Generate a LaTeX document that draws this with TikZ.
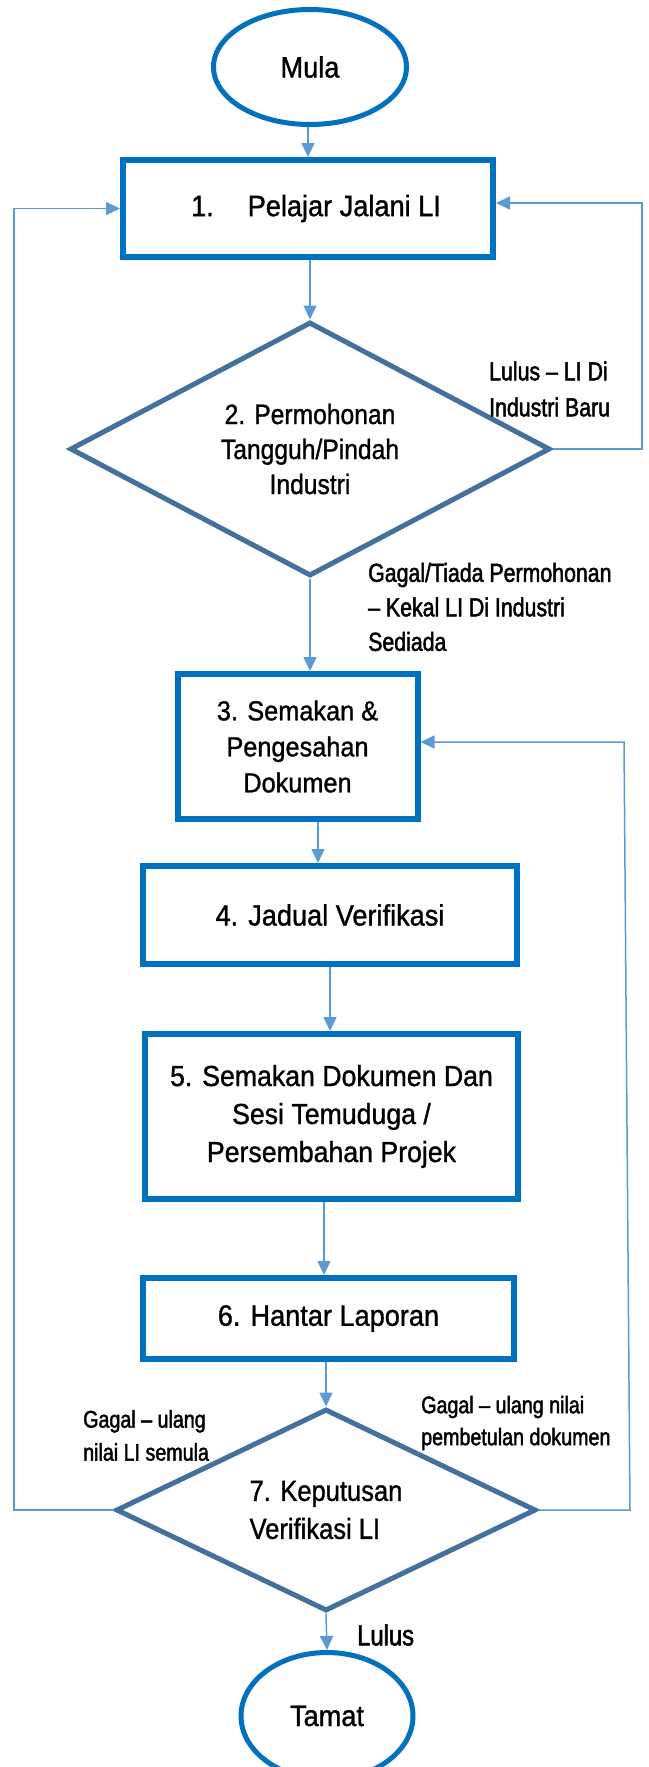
\documentclass[tikz,border=0pt]{standalone}
\usepackage{fontspec}
\setmainfont{Liberation Sans}[FakeBold=1.1,FakeStretch=0.92]
\newfontfamily\diafont[FakeStretch=0.88,FakeBold=1.1]{Liberation Sans}
\newfontfamily\labfont[FakeStretch=0.82,FakeBold=1.8]{Liberation Sans}
\usetikzlibrary{shapes.geometric,arrows.meta,calc}
\definecolor{boxblue}{HTML}{0070C0}
\definecolor{diablue}{HTML}{41719C}
\definecolor{arrblue}{HTML}{5B9BD5}
\begin{document}
\begin{tikzpicture}[x=1pt,y=-1pt,
 stepbox/.style={draw=boxblue,line width=6pt,rectangle,align=center,inner sep=0pt,font=\fontsize{29.5}{36}\selectfont},
 term/.style={draw=boxblue,line width=5pt,ellipse,inner sep=0pt,font=\fontsize{29.5}{32}\selectfont},
 decide/.style={draw=diablue,line width=5pt,diamond,inner sep=0pt,align=center,font=\diafont\fontsize{28}{35}\selectfont},
 arr/.style={draw=arrblue,line width=1.5pt,-{Triangle[length=14pt,width=13pt]}},
 lbl/.style={inner sep=0pt,align=left,anchor=west},
]
\fill[white] (0,0) rectangle (648,1767);
\useasboundingbox (0,0) rectangle (648,1767);

% nodes
\node[term,minimum width=193pt,minimum height=115pt] (mula) at (310,67) {Mula};
\node[stepbox,minimum width=370pt,minimum height=97pt] (box1) at (308,208.5) {\hspace*{16pt}1.\hspace{34pt}Pelajar Jalani LI};
\node[decide,minimum width=480pt,minimum height=254pt,aspect=1.9] (d2) at (310,449) {\raisebox{-4pt}{\parbox{220pt}{\centering\baselineskip=35pt 2. Permohonan\\Tangguh/Pindah\\Industri}}};
\node[stepbox,minimum width=240pt,minimum height=145pt,font=\fontsize{27.5}{36}\selectfont] (box3) at (297.5,746.5) {3. Semakan \&\\Pengesahan\\Dokumen};
\node[stepbox,minimum width=374pt,minimum height=98pt] (box4) at (330,915) {4. Jadual Verifikasi};
\node[stepbox,minimum width=373pt,minimum height=165pt,font=\fontsize{29}{38}\selectfont] (box5) at (331.5,1116.5) {5. Semakan Dokumen Dan\\Sesi Temuduga /\\Persembahan Projek};
\node[stepbox,minimum width=371pt,minimum height=81pt] (box6) at (328.5,1318.5) {6. Hantar Laporan};
\node[decide,minimum width=420pt,minimum height=202pt,aspect=2.05,align=left,font=\diafont\fontsize{29}{38}\selectfont] (d7) at (326,1510) {7. Keputusan\\Verifikasi LI};
\node[term,minimum width=172pt,minimum height=127pt] (tamat) at (327,1716) {Tamat};

% labels
\node[lbl,font=\labfont\fontsize{26}{36}\selectfont] (l1) at (489,389) {Lulus – LI Di\\Industri Baru};
\node[lbl,font=\labfont\fontsize{26}{34.5}\selectfont] (l2) at (368,607) {Gagal/Tiada Permohonan\\– Kekal LI Di Industri\\Sediada};
\node[lbl,font=\labfont\fontsize{24}{33}\selectfont] (l3) at (83,1435.5) {Gagal – ulang\\nilai LI semula};
\node[lbl,font=\labfont\fontsize{24}{32}\selectfont] (l4) at (421,1423) {Gagal – ulang nilai\\pembetulan dokumen};
\node[lbl,font=\labfont\fontsize{29}{32}\selectfont] (l5) at (357,1635) {Lulus};

% main flow
\draw[arr] (box1.north |- mula.south) -- (box1.north);
\draw[arr] (box1.south -| d2.north) -- (d2.north);
\draw[arr] (d2.south) -- (d2.south |- box3.north);
\draw[arr] ([xshift=20.5pt]box3.south) -- ([xshift=20.5pt]box3.south |- box4.north);
\draw[arr] (box4.south) -- (box4.south |- box5.north);
\draw[arr] ([xshift=-7.5pt]box5.south) -- ([xshift=-7.5pt]box5.south |- box6.north);
\draw[arr] ([xshift=-2.5pt]box6.south) -- (d7.north);
\draw[arr] (d7.south) -- (tamat.north);

% feedback loops
\coordinate (rt) at (642,449);
\draw[arr] (d2.east) -- (rt) |- ([yshift=5.5pt]box1.east);
\coordinate (lb) at (14,1510);
\draw[arr] (d7.west) -- (lb) |- (box1.west);
\coordinate (rb) at (630,1510);
\coordinate (rm) at (624,742);
\draw[arr] (d7.east) -- (rb) -- (rm) -- ([yshift=4.5pt]box3.east);
\end{tikzpicture}
\end{document}
